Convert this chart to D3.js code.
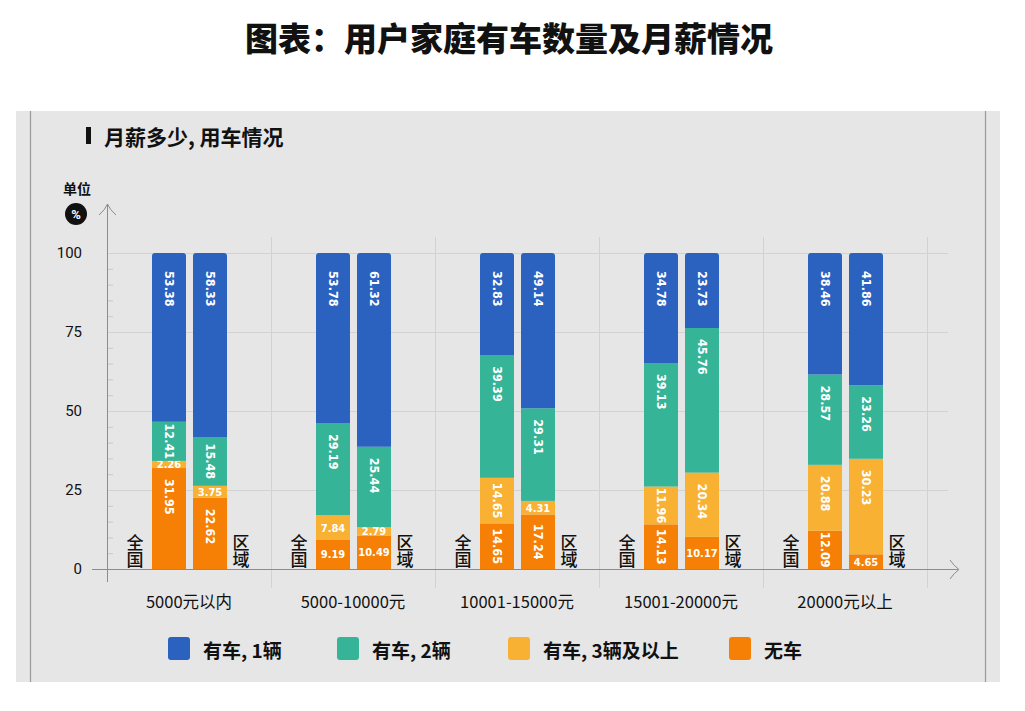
<!DOCTYPE html>
<html><head><meta charset="utf-8">
<script src="https://cdn.jsdelivr.net/npm/d3@7/dist/d3.min.js"></script>
<style>
html,body{margin:0;padding:0;background:#fff;}
svg{display:block;}
</style></head>
<body>
<svg id="chart" width="1025" height="711"></svg>
<script>
const categories = ["5000元以内","5000-10000元","10001-15000元","15001-20000元","20000元以上"];
const scopes = ["全国","区域"];
const seriesKeys = ["noCar","three","two","one"];
const seriesLabels = {one:"有车, 1辆", two:"有车, 2辆", three:"有车, 3辆及以上", noCar:"无车"};
const legendOrder = ["one","two","three","noCar"];
const colors = {one:"#2b62bf", two:"#36b497", three:"#f8b133", noCar:"#f67f06"};

const noCarNational = [31.95, 9.19, 14.65, 14.13, 12.09];
const noCarRegion   = [22.62, 10.49, 17.24, 10.17, 4.65];
const threeNational = [2.26, 7.84, 14.65, 11.96, 20.88];
const threeRegion   = [3.75, 2.79, 4.31, 20.34, 30.23];
const twoNational   = [12.41, 29.19, 39.39, 39.13, 28.57];
const twoRegion     = [15.48, 25.44, 29.31, 45.76, 23.26];
const oneNational   = [53.38, 53.78, 32.83, 34.78, 38.46];
const oneRegion     = [58.33, 61.32, 49.14, 23.73, 41.86];
const yTicks = [0, 25, 50, 75, 100];

const rows = [];
categories.forEach((c, i) => {
  rows.push({cat:c, scope:"全国", noCar:noCarNational[i], three:threeNational[i], two:twoNational[i], one:oneNational[i]});
  rows.push({cat:c, scope:"区域", noCar:noCarRegion[i], three:threeRegion[i], two:twoRegion[i], one:oneRegion[i]});
});

const svg = d3.select("#chart");
const cjk = "'Noto Sans CJK SC','Noto Sans',sans-serif";
const num = "'DejaVu Sans Condensed','DejaVu Sans',sans-serif";

// title
svg.append("text").attr("x", 509).attr("y", 37).attr("text-anchor","middle").attr("dominant-baseline","central")
  .style("font-family", cjk).style("font-size","33px").style("font-weight","900").attr("fill","#111")
  .text("图表：用户家庭有车数量及月薪情况");

// panel
svg.append("rect").attr("x",16).attr("y",111).attr("width",984).attr("height",571).attr("fill","#e6e6e6");
svg.append("line").attr("x1",30.5).attr("x2",30.5).attr("y1",111).attr("y2",682).attr("stroke","#9a9a9a").attr("stroke-width",1.2);
svg.append("line").attr("x1",985.5).attr("x2",985.5).attr("y1",111).attr("y2",682).attr("stroke","#9a9a9a").attr("stroke-width",1.2);

// subtitle
svg.append("rect").attr("x",86).attr("y",127).attr("width",5).attr("height",17).attr("fill","#111");
svg.append("text").attr("x",104).attr("y",136).attr("dominant-baseline","central")
  .style("font-family", cjk).style("font-size","21px").style("font-weight","700").attr("fill","#111")
  .text("月薪多少, 用车情况");

// unit
svg.append("text").attr("x",77).attr("y",188).attr("text-anchor","middle").attr("dominant-baseline","central")
  .style("font-family", cjk).style("font-size","14px").style("font-weight","700").attr("fill","#111").text("单位");
svg.append("circle").attr("cx",76).attr("cy",214).attr("r",11).attr("fill","#111");
svg.append("text").attr("x",76).attr("y",214).attr("text-anchor","middle").attr("dominant-baseline","central")
  .style("font-family", "'Roboto',sans-serif").style("font-size","13px").style("font-weight","700").attr("fill","#fff").text("%");

// scales
const x = d3.scaleBand().domain(categories).range([107, 927]).paddingInner(0).paddingOuter(0);
const xi = d3.scaleBand().domain(scopes).range([45, 120]).paddingInner(7/41).paddingOuter(0);
const y = d3.scaleLinear().domain([0, 1]).range([569, 253]);

// gridlines
const grid = svg.append("g");
grid.selectAll("line.h").data(yTicks.slice(1)).join("line")
  .attr("x1",107).attr("x2",948).attr("y1",d=>y(d/100)+0.5).attr("y2",d=>y(d/100)+0.5)
  .attr("stroke","#d2d2d2").attr("stroke-width",1);
grid.selectAll("line.v").data(categories).join("line")
  .attr("x1",d=>x(d)+x.bandwidth()+0.5).attr("x2",d=>x(d)+x.bandwidth()+0.5)
  .attr("y1",237).attr("y2",588).attr("stroke","#d2d2d2").attr("stroke-width",1);
// minor ticks
const minor = d3.range(0, 101, 5).filter(v => v % 25 !== 0);
grid.selectAll("line.m").data(minor).join("line")
  .attr("x1",107).attr("x2",113).attr("y1",d=>y(d/100)+0.5).attr("y2",d=>y(d/100)+0.5)
  .attr("stroke","#c8c8c8");

// y axis
const yAxis = d3.axisLeft(y).tickValues(yTicks.map(v=>v/100)).tickFormat(d=>Math.round(d*100)).tickSize(0).tickPadding(25);
const ya = svg.append("g").attr("transform","translate(107,0)").call(yAxis);
ya.select(".domain").remove();
ya.selectAll("text").style("font-family","'Roboto','Noto Sans',sans-serif").style("font-size","15px").attr("fill","#111");
svg.append("line").attr("x1",107.5).attr("x2",107.5).attr("y1",205).attr("y2",582).attr("stroke","#8c8c8c");
svg.append("path").attr("d","M99,215 Q105,210 107.5,204 Q110,210 116,215").attr("fill","none").attr("stroke","#8c8c8c");

// x axis
const xAxis = d3.axisBottom(x).tickSize(0).tickPadding(27);
const xa = svg.append("g").attr("transform","translate(0,569)").call(xAxis);
xa.select(".domain").remove();
xa.selectAll("text").style("font-family",cjk).style("font-size","16.5px").attr("fill","#111");
svg.append("line").attr("x1",92).attr("x2",958).attr("y1",569.5).attr("y2",569.5).attr("stroke","#8c8c8c");
svg.append("path").attr("d","M950,560 Q954,566 959,569.5 Q954,573 950,579").attr("fill","none").attr("stroke","#8c8c8c");

// stack
const stack = d3.stack().keys(seriesKeys).offset(d3.stackOffsetExpand);
const series = stack(rows);

const barsG = svg.append("g");
series.forEach(s => {
  const key = s.key;
  s.forEach((d, idx) => {
    const row = rows[idx];
    const bx = x(row.cat) + xi(row.scope);
    const bw = xi.bandwidth();
    const yTop = y(d[1]), yBot = y(d[0]);
    const h = yBot - yTop;
    if (key === "one") {
      const r = 3;
      barsG.append("path")
        .attr("d", `M${bx},${yBot} L${bx},${yTop+r} Q${bx},${yTop} ${bx+r},${yTop} L${bx+bw-r},${yTop} Q${bx+bw},${yTop} ${bx+bw},${yTop+r} L${bx+bw},${yBot} Z`)
        .attr("fill", colors[key]);
    } else {
      barsG.append("rect").attr("x",bx).attr("y",yTop).attr("width",bw).attr("height",h).attr("fill",colors[key]);
    }
    const val = row[key];
    const cx = bx + bw/2;
    if (val < 11) {
      barsG.append("text").attr("x",cx).attr("y",(yTop+yBot)/2+0.5).attr("text-anchor","middle").attr("dominant-baseline","central")
        .style("font-family",num).style("font-size","11px").style("font-weight","700").attr("fill","#fff")
        .text(val.toFixed(2));
    } else {
      const t = barsG.append("text")
        .style("font-family",num).style("font-size","12.5px").style("font-weight","700").attr("fill","#fff")
        .attr("dominant-baseline","central")
        .text(val.toFixed(2));
      const len = t.node().getComputedTextLength();
      let pad = key === "one" ? 18 : 11;
      pad = Math.min(pad, (h - len)/2);
      t.attr("transform", `translate(${cx},${yTop+pad}) rotate(90)`);
    }
  });
});

// scope labels (vertical text)
categories.forEach(c => {
  scopes.forEach((sc, k) => {
    const bx = x(c) + xi(sc);
    const lx = k === 0 ? bx - 17 : bx + xi.bandwidth() + 14;
    svg.append("text").attr("x", lx).attr("y", 534)
      .style("writing-mode","vertical-rl").style("text-orientation","upright")
      .style("font-family",cjk).style("font-size","17px").style("font-weight","500").attr("fill","#111").text(sc);
  });
});

// legend
const legendX = [168, 337, 508, 729];
const lg = svg.append("g");
legendOrder.forEach((k, i) => {
  lg.append("rect").attr("x",legendX[i]).attr("y",637).attr("width",22).attr("height",23).attr("rx",3).attr("fill",colors[k]);
  lg.append("text").attr("x",legendX[i]+35).attr("y",649).attr("dominant-baseline","central")
    .style("font-family",cjk).style("font-size","19px").style("font-weight","700").attr("fill","#111").text(seriesLabels[k]);
});
</script>
</body></html>
